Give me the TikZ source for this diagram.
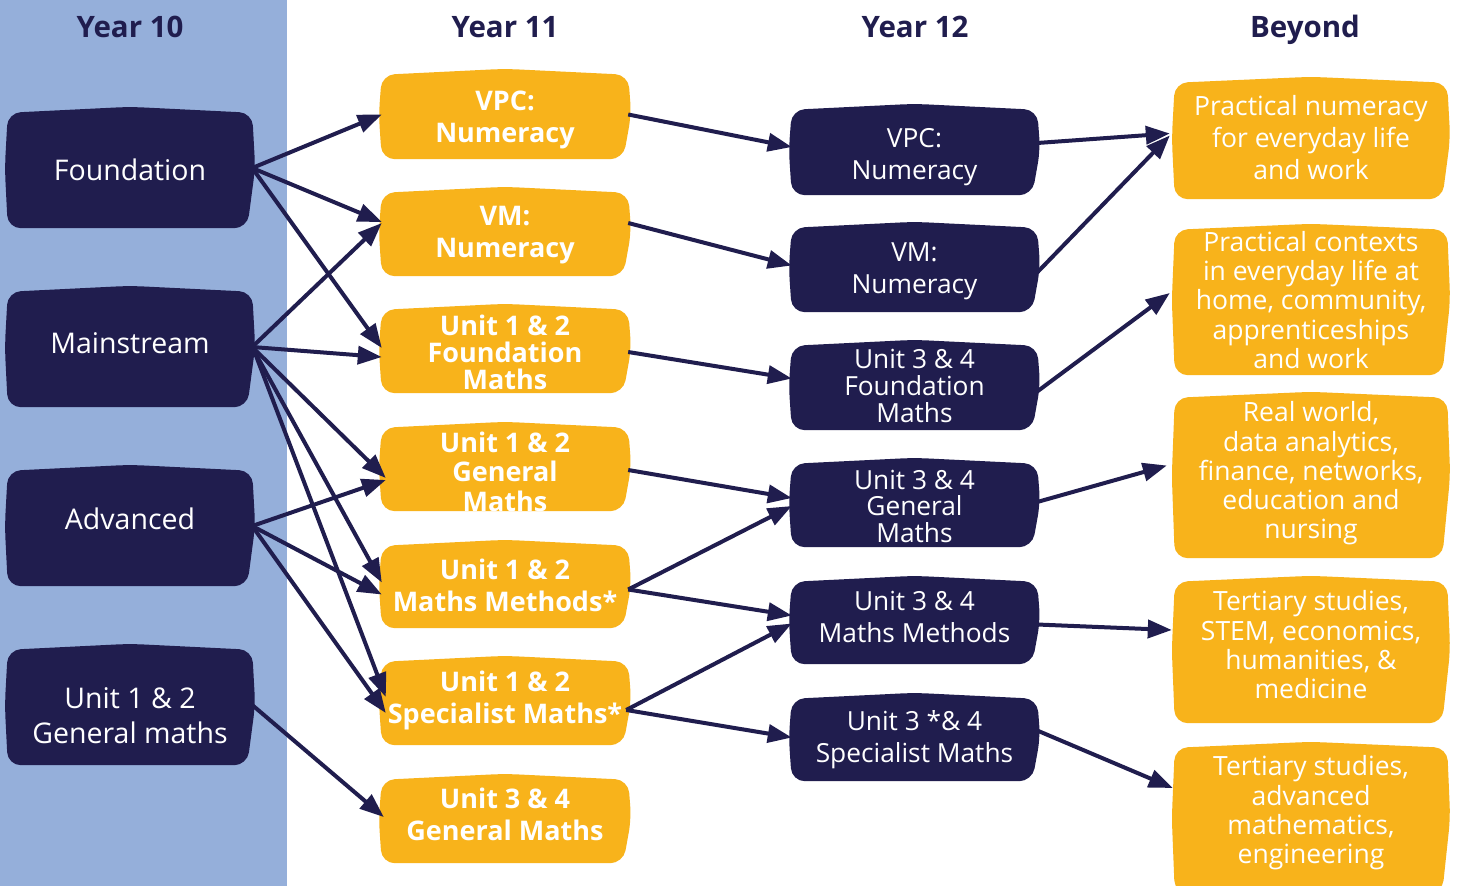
\documentclass[tikz,border=0pt]{standalone}
\usepackage{fontspec}
\setmainfont{Open Sans}
\usetikzlibrary{arrows.meta,calc}
\definecolor{navy}{HTML}{201D4E}
\definecolor{gold}{HTML}{F8B31B}
\definecolor{colblue}{HTML}{95AFDA}
\pgfdeclarelayer{background}
\pgfsetlayers{background,main}
\newcommand\blob[2]{\fill[#2,rounded corners=13pt] ($(#1.north west)+(0,5)$) -- ($(#1.north)+(0,-1)$) -- ($(#1.north east)+(0,5)$) -- ($(#1.east)+(3,0)$) -- ($(#1.south east)+(-5,0)$) -- ($(#1.south)+(0,0)$) -- ($(#1.south west)+(0,0)$) -- ($(#1.west)+(-3,0)$) -- cycle;}
\begin{document}
\begin{tikzpicture}[x=1pt,y=-1pt,
  box/.style={rectangle, inner sep=0pt},
  txt/.style={inner sep=0pt, text=white, align=center},
  y10/.style={box, minimum width=244pt, minimum height=120pt},
  t10/.style={txt, font=\fontsize{28.5}{35}\selectfont},
  y11/.style={box, minimum width=246pt, minimum height=88pt},
  t11/.style={txt, font=\bfseries\fontsize{27}{32}\selectfont},
  t11t/.style={txt, font=\bfseries\fontsize{27}{27}\selectfont},
  y12/.style={box, minimum width=245pt, minimum height=88pt},
  t12/.style={txt, font=\fontsize{26.3}{32}\selectfont},
  t12t/.style={txt, font=\fontsize{26.3}{27}\selectfont},
  by/.style={box, minimum width=272pt},
  tb/.style={txt, font=\fontsize{26.5}{29.3}\selectfont},
  hdr/.style={text=navy, font=\bfseries\fontsize{29.5}{32}\selectfont, inner sep=0pt, anchor=base},
  arr/.style={navy, line width=4pt, -{Triangle[length=24pt,width=18pt]}}]
\useasboundingbox (0,0) rectangle (1457,886);
\clip (0,0) rectangle (1457,886);
\begin{pgfonlayer}{background}
\fill[white] (0,0) rectangle (1457,886);
\fill[colblue] (0,0) rectangle (287,886);
\end{pgfonlayer}
% headers
\node[hdr] (h10) at (130,37) {Year 10};
\node[hdr] (h11) at (505,37) {Year 11};
\node[hdr] (h12) at (915,37) {Year 12};
\node[hdr] (hb) at (1305,37) {Beyond};
% year 10
\node[y10, label={[t10,yshift=-2pt]center:Foundation}] (f10) at (130,168) {};
\node[y10, label={[t10,yshift=4pt]center:Mainstream}] (m10) at (130,347) {};
\node[y10, label={[t10,yshift=7pt]center:Advanced}] (a10) at (130,526) {};
\node[y10, label={[t10,yshift=-11pt]center:{Unit 1 \& 2\\General maths}}] (g10) at (130,705) {};
% year 11
\node[y11, minimum height=89pt, label={[t11,yshift=-5pt]center:{VPC:\\Numeracy}}] (vpc11) at (505,114.5) {};
\node[y11, label={[t11,yshift=-3pt]center:{VM:\\Numeracy}}] (vm11) at (505,232) {};
\node[y11, label={[t11t,yshift=-3pt]center:{Unit 1 \& 2\\Foundation\\Maths}}] (f11) at (505,349) {};
\node[y11, label={[t11t,font=\bfseries\fontsize{27}{29.5}\selectfont,yshift=-4.5pt]center:{Unit 1 \& 2\\General\\Maths}}] (gen11) at (505,467) {};
\node[y11, minimum height=87pt, label={[t11,yshift=-1pt]center:{Unit 1 \& 2\\Maths Methods*}}] (meth11) at (505,584.5) {};
\node[y11, label={[t11,yshift=1pt]center:{Unit 1 \& 2\\Specialist Maths*}}] (spec11) at (505,701) {};
\node[y11, label={[t11,yshift=5pt]center:{Unit 3 \& 4\\General Maths}}] (g34) at (505,819) {};
% year 12
\node[y12, minimum height=90pt, label={[t12,yshift=-7pt]center:{VPC:\\Numeracy}}] (vpc12) at (914.5,150) {};
\node[y12, minimum height=89pt, label={[t12,yshift=-3.5pt]center:{VM:\\Numeracy}}] (vm12) at (914.5,267.5) {};
\node[y12, minimum height=89pt, label={[t12t]center:{Unit 3 \& 4\\Foundation\\Maths}}] (f12) at (914.5,385.5) {};
\node[y12, label={[t12t,font=\fontsize{26.3}{26.5}\selectfont,yshift=-3pt]center:{Unit 3 \& 4\\General\\Maths}}] (gen12) at (914.5,503) {};
\node[y12, minimum height=87pt, label={[t12,yshift=4pt]center:{Unit 3 \& 4\\Maths Methods}}] (meth12) at (914.5,620.5) {};
\node[y12, minimum height=87pt, label={[t12,yshift=-2pt]center:{Unit 3 *\& 4\\Specialist Maths}}] (spec12) at (914.5,737.5) {};
% beyond
\node[by, minimum height=121pt, label={[tb,font=\fontsize{26.5}{32}\selectfont,yshift=1pt]center:{Practical numeracy\\for everyday life\\and work}}] (b1) at (1311,138.5) {};
\node[by, minimum height=150pt, label={[tb]center:{Practical contexts\\in everyday life at\\home, community,\\apprenticeships\\and work}}] (b2) at (1311,300) {};
\node[by, minimum height=165pt, label={[tb,yshift=2pt]center:{Real world,\\data analytics,\\finance, networks,\\education and\\nursing}}] (b3) at (1311,475.5) {};
\node[by, minimum height=146pt, label={[tb,yshift=5pt]center:{Tertiary studies,\\STEM, economics,\\humanities, \&\\medicine}}] (b4) at (1311,650) {};
\node[by, minimum height=150pt, label={[tb,yshift=5pt]center:{Tertiary studies,\\advanced\\mathematics,\\engineering}}] (b5) at (1311,818) {};
% shapes
\begin{pgfonlayer}{background}
\foreach \n in {f10,m10,a10,g10,vpc12,vm12,f12,gen12,meth12,spec12}{\blob{\n}{navy}}
\foreach \n in {vpc11,vm11,f11,gen11,meth11,spec11,g34,b1,b2,b3,b4,b5}{\blob{\n}{gold}}
\end{pgfonlayer}
% year 10 -> year 11
\draw[arr] (f10.east) -- (vpc11.west);
\draw[arr] (f10.east) -- ($(vm11.west)+(0,-10)$);
\draw[arr] (f10.east) -- ($(f11.west)+(0,-1)$);
\draw[arr] (m10.east) -- ($(vm11.west)+(0,-9)$);
\draw[arr] (m10.east) -- ($(f11.west)+(0,8)$);
\draw[arr] (m10.east) -- ($(gen11.west)+(4,11)$);
\draw[arr] ($(m10.east)+(2,4)$) -- ($(meth11.west)+(0,-2)$);
\draw[arr] ($(m10.east)+(2,4)$) -- ($(spec11.west)+(4,-4)$);
\draw[arr] (a10.east) -- ($(gen11.west)+(4,13)$);
\draw[arr] (a10.east) -- ($(meth11.west)+(0,10)$);
\draw[arr] (a10.east) -- ($(spec11.west)+(4,12)$);
\draw[arr] (g10.east) -- ($(g34.west)+(2,-2)$);
% year 11 -> year 12
\draw[arr] (vpc11.east) -- ($(vpc12.west)+(0,-3)$);
\draw[arr] ($(vm11.east)+(0,-9)$) -- ($(vm12.west)+(0,-2)$);
\draw[arr] ($(f11.east)+(0,3)$) -- ($(f12.west)+(0,-7)$);
\draw[arr] ($(gen11.east)+(0,3)$) -- ($(gen12.west)+(0,-5)$);
\draw[arr] ($(meth11.east)+(0,5)$) -- ($(gen12.west)+(0,3)$);
\draw[arr] ($(meth11.east)+(0,5)$) -- ($(meth12.west)+(0,-5)$);
\draw[arr] ($(spec11.east)+(-2,9)$) -- ($(meth12.west)+(0,3)$);
\draw[arr] ($(spec11.east)+(-2,9)$) -- (spec12.west);
% year 12 -> beyond
\draw[arr] ($(vpc12.east)+(0,-7)$) -- ($(b1.west)+(-5,-5)$);
\draw[arr] ($(vm12.east)+(0,5)$) -- ($(b1.west)+(-5,-3)$);
\draw[arr] ($(f12.east)+(0,6)$) -- ($(b2.west)+(-5,-7)$);
\draw[arr] ($(gen12.east)+(0,-1)$) -- ($(b3.west)+(-8,-10)$);
\draw[arr] ($(meth12.east)+(0,4)$) -- ($(b4.west)+(-3,-20)$);
\draw[arr] ($(spec12.east)+(0,-7)$) -- ($(b5.west)+(-2,-30)$);
\end{tikzpicture}
\end{document}
